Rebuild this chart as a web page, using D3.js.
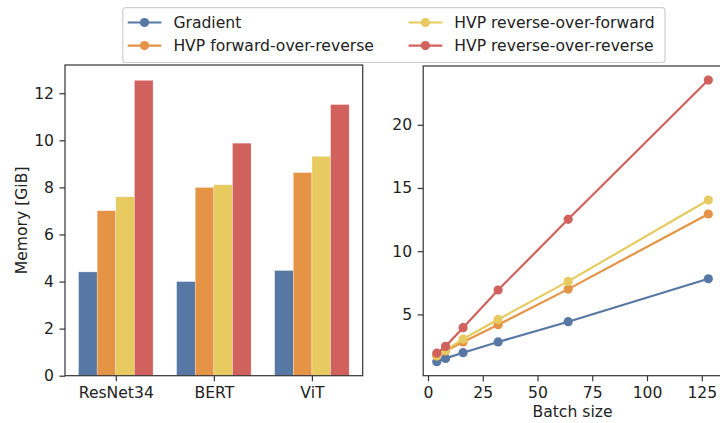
<!DOCTYPE html>
<html><head><meta charset="utf-8">
<script src="https://cdn.jsdelivr.net/npm/d3@7"></script>
<style>
html,body{margin:0;padding:0;background:#fff;}
svg{display:block;font-family:"DejaVu Sans",sans-serif;}
</style></head>
<body><svg id="c" width="720" height="423"></svg>
<script>
const seriesNames = ["Gradient","HVP forward-over-reverse","HVP reverse-over-forward","HVP reverse-over-reverse"];
const colors = ["#5778a4","#e49444","#e7ca60","#d1615d"];
const models = ["ResNet34","BERT","ViT"];
// bar values per series (GiB), order matches models
const gradientMem = [4.41, 4.00, 4.47];
const forOverRevMem = [7.01, 8.00, 8.63];
const revOverForMem = [7.60, 8.11, 9.32];
const revOverRevMem = [12.55, 9.88, 11.52];
const barValues = [gradientMem, forOverRevMem, revOverForMem, revOverRevMem];
// batch-size scaling
const batchSizes = [4, 8, 16, 32, 64, 128];
const gradientBatch = [1.26, 1.52, 1.97, 2.82, 4.42, 7.82];
const forOverRevBatch = [1.70, 2.10, 2.82, 4.18, 7.00, 12.94];
const revOverForBatch = [1.72, 2.15, 3.05, 4.60, 7.61, 14.05];
const revOverRevBatch = [1.93, 2.47, 3.95, 6.93, 12.52, 23.54];
const lineValues = [gradientBatch, forOverRevBatch, revOverForBatch, revOverRevBatch];
const leftYTicks = [0, 2, 4, 6, 8, 10, 12];
const rightYTicks = [5, 10, 15, 20];
const rightXTicks = [0, 25, 50, 75, 100, 125];

const svg = d3.select("#c");
const FS = 15.6, TXT = "#222", AX = "#333";
const TK = 5.5;

function styleAxis(g){
  g.selectAll(".domain").remove();
  g.selectAll(".tick line").attr("stroke", AX).attr("stroke-width", 1.2);
  g.selectAll(".tick text").attr("fill", TXT).style("font-size", FS+"px").style("font-family","DejaVu Sans");
}

// ---------- Left: bar chart ----------
const L = {x0:65, x1:362.7, y0:65, y1:375.7};
const bw = 0.19;
const xL = d3.scaleLinear().domain([-0.518, 2.518]).range([L.x0, L.x1]);
const yL = d3.scaleLinear().domain([0, 13.2]).range([L.y1, L.y0]);
const gL = svg.append("g");
barValues.forEach((vals, s) => {
  gL.selectAll(null).data(vals).enter().append("rect")
    .attr("x", (d,i) => xL(i + (s-1.5)*bw - bw/2))
    .attr("width", xL(bw) - xL(0))
    .attr("y", d => yL(d))
    .attr("height", d => yL(0) - yL(d))
    .attr("fill", colors[s])
    .attr("stroke", "#fff").attr("stroke-opacity", 0.6).attr("stroke-width", 0.5);
});
gL.append("rect").attr("x", L.x0).attr("y", L.y0).attr("width", L.x1-L.x0).attr("height", L.y1-L.y0)
  .attr("fill","none").attr("stroke", AX).attr("stroke-width", 1.2);
gL.append("g").attr("transform", `translate(0,${L.y1})`)
  .call(d3.axisBottom(xL).tickValues([0,1,2]).tickFormat(i => models[i]).tickSizeInner(TK).tickSizeOuter(0).tickPadding(TK))
  .call(styleAxis);
gL.append("g").attr("transform", `translate(${L.x0},0)`)
  .call(d3.axisLeft(yL).tickValues(leftYTicks).tickFormat(d3.format("d")).tickSizeInner(TK).tickSizeOuter(0).tickPadding(TK))
  .call(styleAxis);
gL.append("text").attr("transform", `translate(21.5,${(L.y0+L.y1)/2}) rotate(-90)`)
  .attr("text-anchor","middle").attr("dy","0.35em").attr("fill", TXT).style("font-size", FS+"px").text("Memory [GiB]");

// ---------- Right: line chart ----------
const R = {x0:423.2, x1:721.9, y0:66, y1:375.7};
const xR = d3.scaleLinear().domain([-2.2, 134.2]).range([R.x0, R.x1]);
const yR = d3.scaleLinear().domain([0.15, 24.65]).range([R.y1, R.y0]);
const gR = svg.append("g");
const line = d3.line().x((d,i) => xR(batchSizes[i])).y(d => yR(d));
lineValues.forEach((vals, s) => {
  const g = gR.append("g");
  g.append("path").datum(vals).attr("d", line).attr("fill","none").attr("stroke", colors[s]).attr("stroke-width", 2.2);
  g.selectAll("circle").data(vals).enter().append("circle")
    .attr("cx", (d,i) => xR(batchSizes[i])).attr("cy", d => yR(d)).attr("r", 4.6).attr("fill", colors[s]);
});
gR.append("rect").attr("x", R.x0).attr("y", R.y0).attr("width", R.x1-R.x0).attr("height", R.y1-R.y0)
  .attr("fill","none").attr("stroke", AX).attr("stroke-width", 1.2);
gR.append("g").attr("transform", `translate(0,${R.y1})`)
  .call(d3.axisBottom(xR).tickValues(rightXTicks).tickFormat(d3.format("d")).tickSizeInner(TK).tickSizeOuter(0).tickPadding(TK))
  .call(styleAxis);
gR.append("g").attr("transform", `translate(${R.x0},0)`)
  .call(d3.axisLeft(yR).tickValues(rightYTicks).tickFormat(d3.format("d")).tickSizeInner(TK).tickSizeOuter(0).tickPadding(TK))
  .call(styleAxis);
gR.append("text").attr("x", 572.5).attr("y", 411.5).attr("dy","0.35em").attr("text-anchor","middle").attr("fill", TXT)
  .style("font-size", FS+"px").text("Batch size");

// ---------- Legend ----------
const lg = svg.append("g");
lg.append("rect").attr("x", 122.8).attr("y", 7.7).attr("width", 542.2).attr("height", 54.8)
  .attr("rx", 3).attr("fill","#fff").attr("stroke","#d0d0d0").attr("stroke-width", 1.2);
const legPos = [[127.7, 22.5],[127.7, 45.6],[408.6, 22.5],[408.6, 45.6]];
seriesNames.forEach((name, s) => {
  const [lx, ly] = legPos[s];
  lg.append("line").attr("x1", lx).attr("x2", lx+33.7).attr("y1", ly).attr("y2", ly)
    .attr("stroke", colors[s]).attr("stroke-width", 2.2);
  lg.append("circle").attr("cx", lx+16.8).attr("cy", ly).attr("r", 4.6).attr("fill", colors[s]);
  lg.append("text").attr("x", lx+45.7).attr("y", ly).attr("dy","0.36em").attr("fill", TXT)
    .style("font-size", FS+"px").text(name);
});
</script></body></html>
